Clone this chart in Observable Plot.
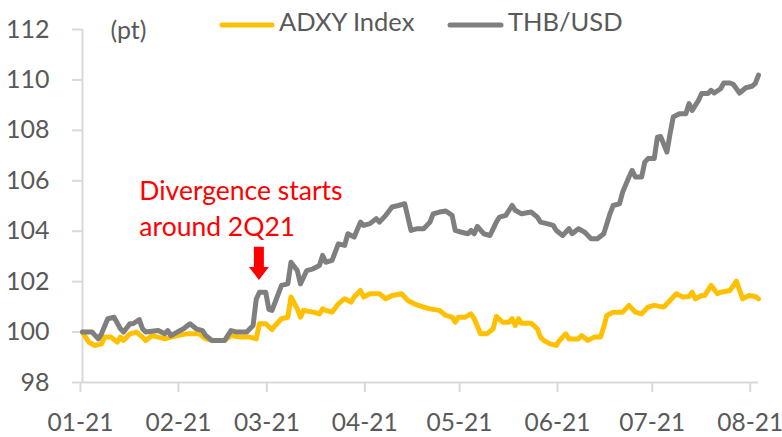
<!DOCTYPE html>
<html><head><meta charset="utf-8">
<script src="https://cdn.jsdelivr.net/npm/d3@7"></script>
<script src="https://cdn.jsdelivr.net/npm/@observablehq/plot@0.6"></script>
<style>body{margin:0;background:#fff}#chart{width:782px;height:437px}</style>
</head><body><div id="chart"></div>
<script>
// THB/USD (indexed, pt)
const thbDates = [
  "2021-01-01","2021-01-04","2021-01-06","2021-01-07","2021-01-09","2021-01-11","2021-01-13","2021-01-14","2021-01-16","2021-01-17","2021-01-19","2021-01-20","2021-01-21","2021-01-25","2021-01-27","2021-01-28","2021-01-29","2021-01-31",
  "2021-02-02","2021-02-04","2021-02-06","2021-02-08","2021-02-09","2021-02-11","2021-02-15","2021-02-17","2021-02-19","2021-02-22","2021-02-24","2021-02-25","2021-02-26","2021-02-28",
  "2021-03-01","2021-03-02","2021-03-04","2021-03-05","2021-03-07","2021-03-08","2021-03-10","2021-03-11","2021-03-13","2021-03-15","2021-03-17","2021-03-18","2021-03-19","2021-03-21","2021-03-23","2021-03-25","2021-03-26","2021-03-28","2021-03-30","2021-03-31",
  "2021-04-02","2021-04-04","2021-04-05","2021-04-07","2021-04-09","2021-04-11","2021-04-13","2021-04-15","2021-04-17","2021-04-19","2021-04-21","2021-04-22","2021-04-24","2021-04-26","2021-04-28","2021-04-29",
  "2021-05-01","2021-05-03","2021-05-04","2021-05-05","2021-05-06","2021-05-08","2021-05-10","2021-05-12","2021-05-13","2021-05-15","2021-05-17","2021-05-18","2021-05-20","2021-05-23","2021-05-25","2021-05-26","2021-05-28","2021-05-30","2021-05-31",
  "2021-06-02","2021-06-04","2021-06-05","2021-06-07","2021-06-09","2021-06-11","2021-06-13","2021-06-15","2021-06-16","2021-06-17","2021-06-18","2021-06-20","2021-06-21","2021-06-23","2021-06-24","2021-06-25","2021-06-27","2021-06-28","2021-06-29",
  "2021-07-01","2021-07-02","2021-07-03","2021-07-05","2021-07-06","2021-07-07","2021-07-09","2021-07-11","2021-07-12","2021-07-13","2021-07-15","2021-07-16","2021-07-18","2021-07-19","2021-07-20","2021-07-22","2021-07-23","2021-07-25","2021-07-26","2021-07-28","2021-07-30",
  "2021-08-01","2021-08-02","2021-08-03"
];
const thbValues = [
  100.00,100.00,99.73,99.93,100.53,100.59,100.13,100.00,100.33,100.33,100.49,100.13,100.00,100.06,99.93,100.06,99.86,100.00,
  100.13,100.33,100.13,100.06,99.86,99.67,99.67,100.06,100.00,100.00,100.26,101.30,101.58,101.58,
  100.90,100.86,101.52,101.85,101.91,102.77,102.44,101.91,102.44,102.51,102.64,103.04,102.77,102.84,103.50,103.44,103.90,103.77,104.36,104.23,
  104.30,104.50,104.36,104.63,104.96,105.02,105.09,104.03,104.10,104.10,104.36,104.69,104.76,104.80,104.63,104.03,
  103.96,103.90,104.03,103.90,104.19,103.90,103.83,104.36,104.56,104.63,105.02,104.83,104.69,104.76,104.56,104.36,104.30,104.23,104.03,
  103.83,104.10,103.90,104.10,103.96,103.70,103.70,103.90,104.30,104.70,105.02,105.09,105.55,106.15,106.41,106.15,106.15,106.74,106.88,
  106.88,107.73,107.76,107.14,107.86,108.53,108.66,108.66,109.06,108.79,109.19,109.46,109.46,109.59,109.48,109.65,109.88,109.88,109.83,109.48,109.69,
  109.75,109.86,110.19
];
// ADXY Index (indexed, pt)
const adxyDates = [
  "2021-01-01","2021-01-03","2021-01-05","2021-01-07","2021-01-08","2021-01-10","2021-01-12","2021-01-13","2021-01-14","2021-01-16","2021-01-18","2021-01-20","2021-01-21","2021-01-23","2021-01-25","2021-01-27","2021-01-29","2021-01-31",
  "2021-02-03","2021-02-05","2021-02-07","2021-02-09","2021-02-11","2021-02-13","2021-02-15","2021-02-17","2021-02-20","2021-02-23","2021-02-25","2021-02-26","2021-02-28",
  "2021-03-02","2021-03-03","2021-03-05","2021-03-07","2021-03-08","2021-03-10","2021-03-11","2021-03-12","2021-03-15","2021-03-17","2021-03-18","2021-03-19","2021-03-21","2021-03-23","2021-03-25","2021-03-27","2021-03-28","2021-03-30","2021-03-31",
  "2021-04-02","2021-04-05","2021-04-07","2021-04-09","2021-04-12","2021-04-14","2021-04-16","2021-04-19","2021-04-21","2021-04-24","2021-04-26","2021-04-28","2021-04-29","2021-04-30",
  "2021-05-02","2021-05-04","2021-05-05","2021-05-07","2021-05-09","2021-05-11","2021-05-12","2021-05-14","2021-05-16","2021-05-17","2021-05-18","2021-05-19","2021-05-20","2021-05-23","2021-05-25","2021-05-26","2021-05-27","2021-05-29","2021-05-31",
  "2021-06-01","2021-06-03","2021-06-04","2021-06-07","2021-06-08","2021-06-10","2021-06-12","2021-06-14","2021-06-15","2021-06-16","2021-06-18","2021-06-21","2021-06-23","2021-06-25","2021-06-27","2021-06-29",
  "2021-07-01","2021-07-04","2021-07-06","2021-07-08","2021-07-10","2021-07-12","2021-07-13","2021-07-14","2021-07-16","2021-07-17","2021-07-19","2021-07-21","2021-07-22","2021-07-25","2021-07-27","2021-07-29","2021-07-31",
  "2021-08-02","2021-08-03"
];
const adxyValues = [
  100.00,99.60,99.47,99.53,99.80,99.80,99.60,99.80,99.67,99.93,100.00,99.80,99.67,99.86,99.80,99.73,99.80,99.86,
  99.93,99.93,99.93,99.73,99.67,99.67,99.67,99.86,99.80,99.80,99.73,100.33,100.33,
  100.10,100.26,100.53,100.59,101.39,100.92,100.59,100.86,100.79,100.72,100.92,100.86,100.79,101.12,101.32,101.19,101.39,101.65,101.39,
  101.52,101.52,101.32,101.45,101.52,101.25,101.12,100.99,100.92,100.86,100.66,100.59,100.39,100.59,
  100.59,100.72,100.53,99.93,99.93,100.13,100.62,100.39,100.39,100.53,100.26,100.53,100.35,100.35,100.13,99.80,99.67,99.53,99.47,
  99.67,99.93,99.73,99.73,99.86,99.67,99.80,99.80,100.20,100.66,100.79,100.79,101.06,100.79,100.72,100.99,
  101.06,100.99,101.25,101.52,101.39,101.41,101.58,101.32,101.45,101.45,101.85,101.52,101.58,101.65,102.02,101.32,101.45,
  101.41,101.32
];
const seriesNames = ["ADXY Index", "THB/USD"];
const seriesColors = ["#FFC000", "#7F7F7F"];
const xDomain = ["2021-01-01", "2021-08-03"];
const xTickDates = ["2021-01-01","2021-02-01","2021-03-01","2021-04-01","2021-05-01","2021-06-01","2021-07-01","2021-08-01"];
const xTickLabels = ["01-21","02-21","03-21","04-21","05-21","06-21","07-21","08-21"];
const yTicks = [98, 100, 102, 104, 106, 108, 110, 112];
const unitLabel = "(pt)";
const noteText = "Divergence starts\naround 2Q21";
const noteAt = {date: "2021-01-19", value: 104.98};
const arrowAt = {date: "2021-02-26", from: 103.36, to: 102.05};

const parse = d3.utcParse("%Y-%m-%d");
const thb = thbDates.map((d, i) => ({date: parse(d), value: thbValues[i]}));
const adxy = adxyDates.map((d, i) => ({date: parse(d), value: adxyValues[i]}));
const tickDates = xTickDates.map(parse);
const labelOf = new Map(tickDates.map((d, i) => [+d, xTickLabels[i]]));

const FONT = "Lato, 'Open Sans', sans-serif";
const TXT = "#595959";
const AX = "#D9D9D9";

const plot = Plot.plot({
  width: 782, height: 437,
  marginLeft: 82, marginRight: 24, marginTop: 29, marginBottom: 55,
  style: {fontFamily: FONT, background: "#fff", overflow: "visible"},
  x: {type: "utc", domain: xDomain.map(parse)},
  y: {domain: [98, 112]},
  marks: [
    Plot.ruleY([98], {stroke: AX, strokeWidth: 2}),
    Plot.ruleX([parse(xDomain[0])], {stroke: AX, strokeWidth: 2}),
    Plot.axisY(yTicks, {tickSize: 10, tickPadding: 23, fontSize: 25, fill: TXT, stroke: AX, strokeWidth: 2, strokeOpacity: 1, label: null}),
    Plot.axisX(tickDates, {tickSize: 10, tickPadding: 21, fontSize: 24.5, dx: -2, fill: TXT, stroke: AX, strokeWidth: 2, strokeOpacity: 1, tickFormat: d => labelOf.get(+d), label: null}),
    Plot.line(adxy, {x: "date", y: "value", stroke: seriesColors[0], strokeWidth: 5, strokeLinejoin: "round", strokeLinecap: "round"}),
    Plot.line(thb, {x: "date", y: "value", stroke: seriesColors[1], strokeWidth: 5, strokeLinejoin: "round", strokeLinecap: "round"}),
    Plot.text([noteText], {x: parse(noteAt.date), y: noteAt.value, text: d => d, fill: "#FF0000", fontSize: 26.5, textAnchor: "start", lineAnchor: "middle", lineHeight: 1.38}),
    Plot.text([unitLabel], {frameAnchor: "top-left", dx: 28, dy: 1, text: d => d, fill: TXT, fontSize: 25, textAnchor: "start", lineAnchor: "middle"})
  ]
});
document.getElementById("chart").appendChild(plot);

const svg = d3.select(plot);
const xs = plot.scale("x"), ys = plot.scale("y");
// red block arrow
const cx = xs.apply(parse(arrowAt.date));
const yT = ys.apply(arrowAt.from), yB = ys.apply(arrowAt.to);
const headH = 13, sw = 5, hw = 10;
svg.append("path")
  .attr("d", `M${cx-sw},${yT}L${cx+sw},${yT}L${cx+sw},${yB-headH}L${cx+hw},${yB-headH}L${cx},${yB}L${cx-hw},${yB-headH}L${cx-sw},${yB-headH}Z`)
  .attr("fill", "#FF0000");

// legend
const legendItems = [{x: 220, w: 54}, {x: 448, w: 55}];
const lg = svg.append("g").attr("font-family", FONT).attr("font-size", 25.5).attr("fill", TXT).attr("text-anchor", "start");
seriesNames.forEach((name, i) => {
  const it = legendItems[i];
  lg.append("line").attr("x1", it.x + 2).attr("x2", it.x + it.w - 2).attr("y1", 25).attr("y2", 25)
    .attr("stroke", seriesColors[i]).attr("stroke-width", 5).attr("stroke-linecap", "round");
  lg.append("text").attr("x", it.x + it.w + 5).attr("y", 22).attr("dy", "0.36em").attr("text-anchor", "start").text(name);
});
</script></body></html>
